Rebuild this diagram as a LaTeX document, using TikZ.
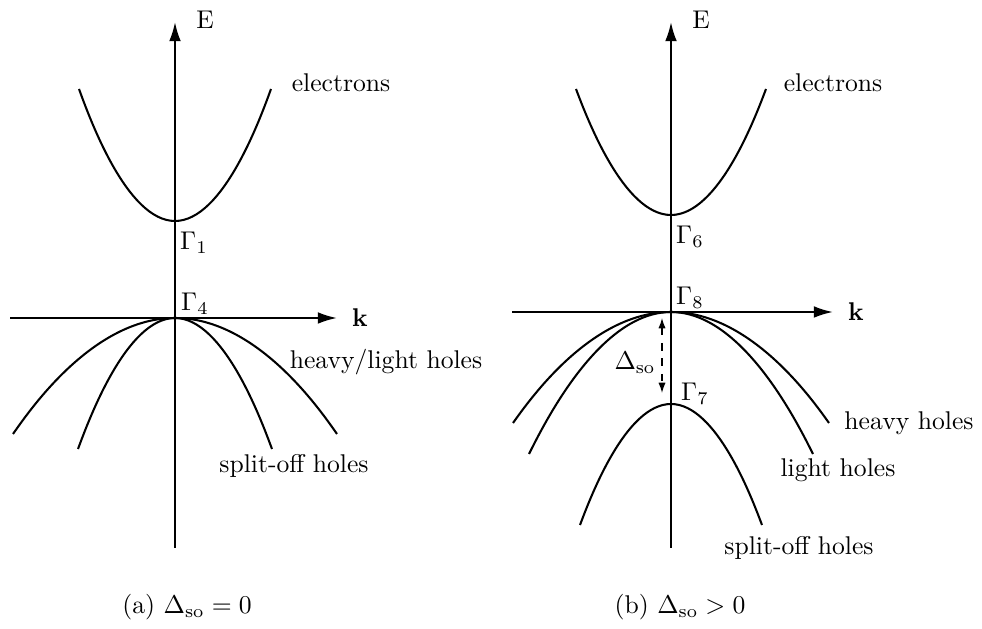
\documentclass[tikz,border=0pt]{standalone}
\usepackage{amsmath,amssymb}
\usepackage{tikz}
\usetikzlibrary{arrows.meta,positioning}
\tikzset{
  axisln/.style={line width=0.8pt, -{Latex[length=7.5pt,width=4.6pt]}},
  band/.style={line width=0.8pt},
  gaparr/.style={line width=0.5pt, dashed, {Latex[length=4pt,width=2.8pt]}-{Latex[length=4pt,width=2.8pt]}},
  lbl/.style={inner sep=1pt, font=\normalsize},
}

\begin{document}
\begin{tikzpicture}[x=0.39pt, y=-0.39pt]
\useasboundingbox (0,0) rectangle (982,629);

% (a) no spin-orbit splitting
\coordinate (a-bot) at (175,548);
\coordinate (a-top) at (175,22);
\coordinate (a-left) at (10,318);
\coordinate (a-right) at (337,318);
\draw[axisln] (a-bot) -- (a-top);
\draw[axisln] (a-left) -- (a-right);
\node[lbl] (a-E) at (205,20) {E};
\node[lbl] (a-k) at (360,318) {$\mathbf{k}$};

\draw[band] (79,89) parabola bend (175,221) (271,89);
\draw[band] (13,434) parabola bend (175,318) (337,434);
\draw[band] (78,449) parabola bend (175,318) (272,449);

\node[lbl] (a-G1) at (194,243) {$\Gamma_1$};
\node[lbl] (a-G4) at (195,304) {$\Gamma_4$};
\node[lbl] (a-el) at (341,83) {electrons};
\node[lbl] (a-hl) at (386,362) {heavy/light holes};
\node[lbl] (a-so) at (294,466) {split-off holes};
\node[lbl] (a-cap) at (187,607) {(a) $\Delta_{\mathrm{so}}=0$};

% (b) with spin-orbit splitting
\coordinate (b-bot) at (671,548);
\coordinate (b-top) at (671,22);
\coordinate (b-left) at (512,312);
\coordinate (b-right) at (833,312);
\draw[axisln] (b-bot) -- (b-top);
\draw[axisln] (b-left) -- (b-right);
\node[lbl] (b-E) at (701,20) {E};
\node[lbl] (b-k) at (856,312) {$\mathbf{k}$};

\draw[band] (576,89) parabola bend (671,215) (766,89);
\draw[band] (513,423) parabola bend (671,312) (829,423);
\draw[band] (529,454) parabola bend (671,312) (813,454);
\draw[band] (580,525) parabola bend (671,404) (762,525);

\coordinate (g-top) at (662,318);
\coordinate (g-bot) at (662,393);
\draw[gaparr] (g-top) -- (g-bot);
\node[lbl] (b-dso) at (635,363) {$\Delta_{\mathrm{so}}$};

\node[lbl] (b-G6) at (690,237) {$\Gamma_6$};
\node[lbl] (b-G8) at (690,298) {$\Gamma_8$};
\node[lbl] (b-G7) at (695,394) {$\Gamma_7$};
\node[lbl] (b-el) at (833,83) {electrons};
\node[lbl] (b-hh) at (909,423) {heavy holes};
\node[lbl] (b-lh) at (838,470) {light holes};
\node[lbl] (b-so) at (799,548) {split-off holes};
\node[lbl] (b-cap) at (680,607) {(b) $\Delta_{\mathrm{so}}>0$};
\end{tikzpicture}
\end{document}
